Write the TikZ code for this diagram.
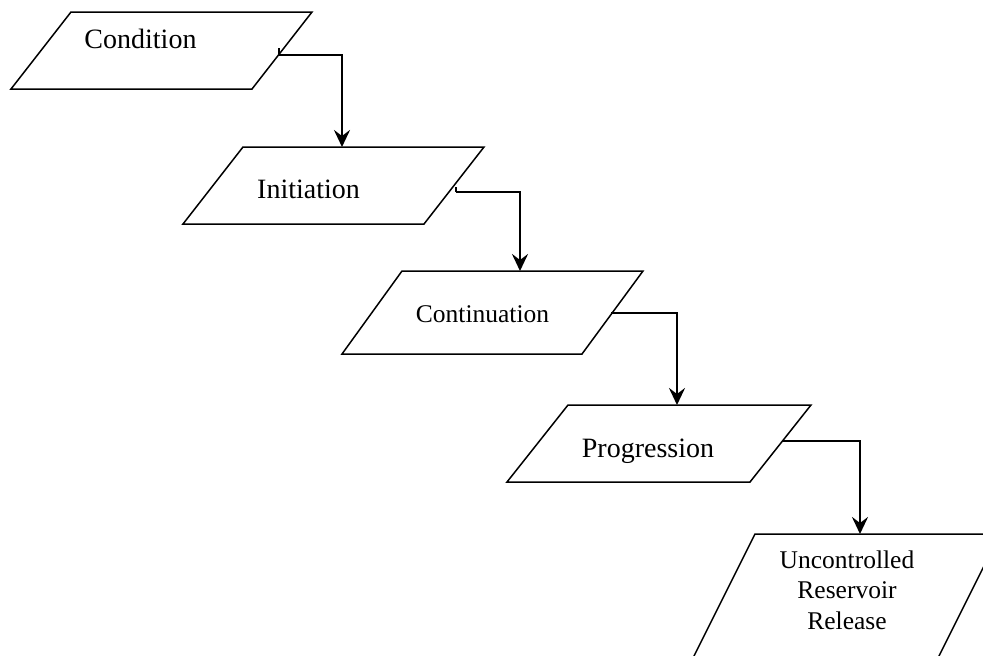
\documentclass[tikz,border=0pt]{standalone}
\usepackage{fontspec}
\setmainfont{Liberation Serif}
\usetikzlibrary{arrows.meta}
\begin{document}
\begin{tikzpicture}[x=1pt,y=-1pt,
  box/.style={draw=black,line width=1.5pt,line join=miter},
  flow/.style={draw=black,line width=2.8pt,
    -{Stealth[length=17pt,width=16pt,inset=6pt]}},
  stub/.style={draw=black,line width=2pt},
  biglbl/.style={inner sep=0pt,anchor=base,font=\fontsize{28}{33}\selectfont},
  smalllbl/.style={inner sep=0pt,anchor=base,align=center,
    font=\fontsize{25.5}{30.5}\selectfont}]
\useasboundingbox (0,0) rectangle (983,656);
\clip (0,0) rectangle (983,656);

% stages, drawn as parallelograms
\draw[box] (71,12) coordinate (b1tl) -- (312,12) coordinate (b1tr)
  -- (252,89) coordinate (b1br) -- (11,89) coordinate (b1bl) -- cycle;
\draw[box] (243,147) coordinate (b2tl) -- (484,147) coordinate (b2tr)
  -- (424,224) coordinate (b2br) -- (183,224) coordinate (b2bl) -- cycle;
\draw[box] (402,271) coordinate (b3tl) -- (643,271) coordinate (b3tr)
  -- (582,354) coordinate (b3br) -- (342,354) coordinate (b3bl) -- cycle;
\draw[box] (568,405) coordinate (b4tl) -- (811,405) coordinate (b4tr)
  -- (750,482) coordinate (b4br) -- (507,482) coordinate (b4bl) -- cycle;
\draw[box] (755,534) coordinate (b5tl) -- (1000,534) coordinate (b5tr)
  -- (907,720) coordinate (b5br) -- (662,720) coordinate (b5bl) -- cycle;

% labels (a multi-line node sits on the baseline of its last line)
\node[biglbl] (condition) at (140.5,48) {Condition};
\node[biglbl] (initiation) at (308.5,198) {Initiation};
\node[smalllbl] (continuation) at (482.5,322) {Continuation};
\node[biglbl] (progression) at (648,457) {Progression};
\node[smalllbl] (release) at (847,629) {Uncontrolled\\Reservoir\\Release};

% connector end points on the box edges
\coordinate (o1) at (279,55);   \coordinate (i2) at (342,147);
\coordinate (o2) at (456,192);  \coordinate (i3) at (520,271);
\coordinate (o3) at (611,313);  \coordinate (i4) at (677,405);
\coordinate (o4) at (782,441);  \coordinate (i5) at (860,534);

% small stubs where the first two connectors leave their boxes
\draw[stub] (o1) -- ++(0,-7);
\draw[stub] (o2) -- ++(0,-5);

% elbow connectors
\draw[flow] (o1) -| (i2);
\draw[flow] (o2) -| (i3);
\draw[flow] (o3) -| (i4);
\draw[flow] (o4) -| (i5);
\end{tikzpicture}
\end{document}
